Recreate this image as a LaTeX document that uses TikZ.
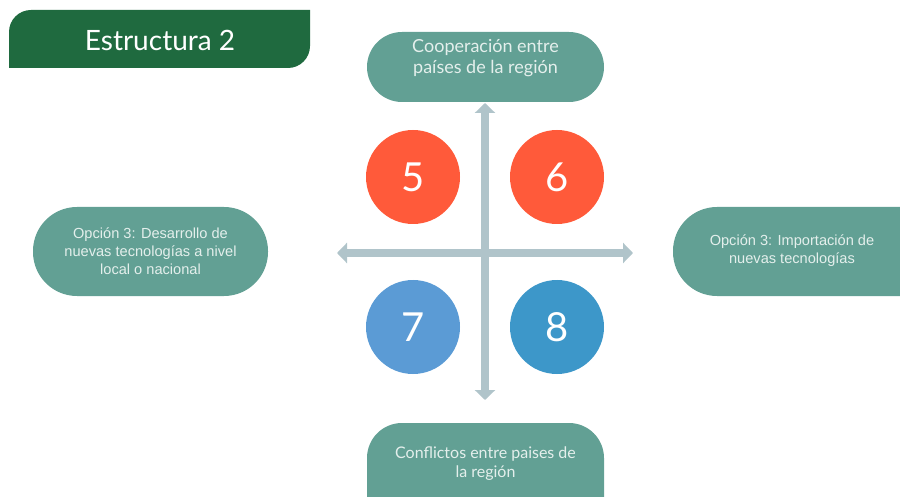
\documentclass[tikz,border=0pt]{standalone}
\usepackage{fontspec}
\setmainfont{Lato}
\newfontfamily\arialfont{Liberation Sans}
\usetikzlibrary{arrows.meta}
\definecolor{bannergreen}{HTML}{1F6A3F}
\definecolor{pillteal}{HTML}{62A094}
\definecolor{pilltext}{HTML}{E4EFEC}
\definecolor{axisgrey}{HTML}{B0C4CA}
\definecolor{hotred}{HTML}{FF5A3A}
\definecolor{softblue}{HTML}{5B9BD5}
\definecolor{deepblue}{HTML}{3D97C9}
\tikzset{
  numdisc/.style={circle, minimum size=94pt, inner sep=0pt, text=white, font=\fontsize{40}{40}\selectfont},
  axisline/.style={draw=axisgrey, line width=8pt, {Triangle[width=20pt,length=10pt]}-{Triangle[width=20pt,length=10pt]}},
  quadtext/.style={text=pilltext, align=center},
  sidetext/.style={font=\arialfont\fontsize{14.6}{18}\selectfont, text=pilltext, align=center}
}
\begin{document}
\begin{tikzpicture}[x=1pt,y=-1pt]
  \useasboundingbox (0,0) rectangle (900,497);
  \clip (0,0) rectangle (900,497);

  % title banner: rounded top-left and bottom-right corners
  \fill[bannergreen] (9,68) -- (9,32) arc[start angle=180, end angle=90, x radius=22, y radius=-22]
       -- (310,10) -- (310,46) arc[start angle=0, end angle=-90, x radius=22, y radius=-22] -- cycle;
  \node[text=white, font=\fontsize{28}{28}\selectfont] (title) at (160,40) {Estructura 2};

  % four outcome pills
  \fill[pillteal, rounded corners=35] (367,32) rectangle (604,102);
  \node[quadtext, font=\fontsize{18}{21}\selectfont] (top) at (485.5,58) {Cooperación entre\\países de la región};

  \fill[pillteal, rounded corners=44] (33,207) rectangle (268,296);
  \node[sidetext] (left) at (150.5,251) {Opción 3: Desarrollo de\\nuevas tecnologías a nivel\\local o nacional};

  \fill[pillteal, rounded corners=44] (673,207) rectangle (945,296);
  \node[sidetext] (right) at (792,251) {Opción 3: Importación de\\nuevas tecnologías};

  \fill[pillteal, rounded corners=35] (367,423) rectangle (604,540);
  \node[quadtext, font=\fontsize{16}{19}\selectfont] (bottom) at (485.5,464) {Conflictos entre paises de\\la región};

  % axes
  \coordinate (vtop) at (485,103);
  \coordinate (vbot) at (485,400);
  \coordinate (hleft) at (337,253);
  \coordinate (hright) at (633,253);
  \draw[axisline] (hleft) -- (hright);
  \draw[axisline] (vtop) -- (vbot);

  % numbered scenarios
  \node[numdisc, fill=hotred] (s5) at (413,177) {5};
  \node[numdisc, fill=hotred] (s6) at (557,177) {6};
  \node[numdisc, fill=softblue] (s7) at (413,327) {7};
  \node[numdisc, fill=deepblue] (s8) at (557,327) {8};
\end{tikzpicture}
\end{document}
